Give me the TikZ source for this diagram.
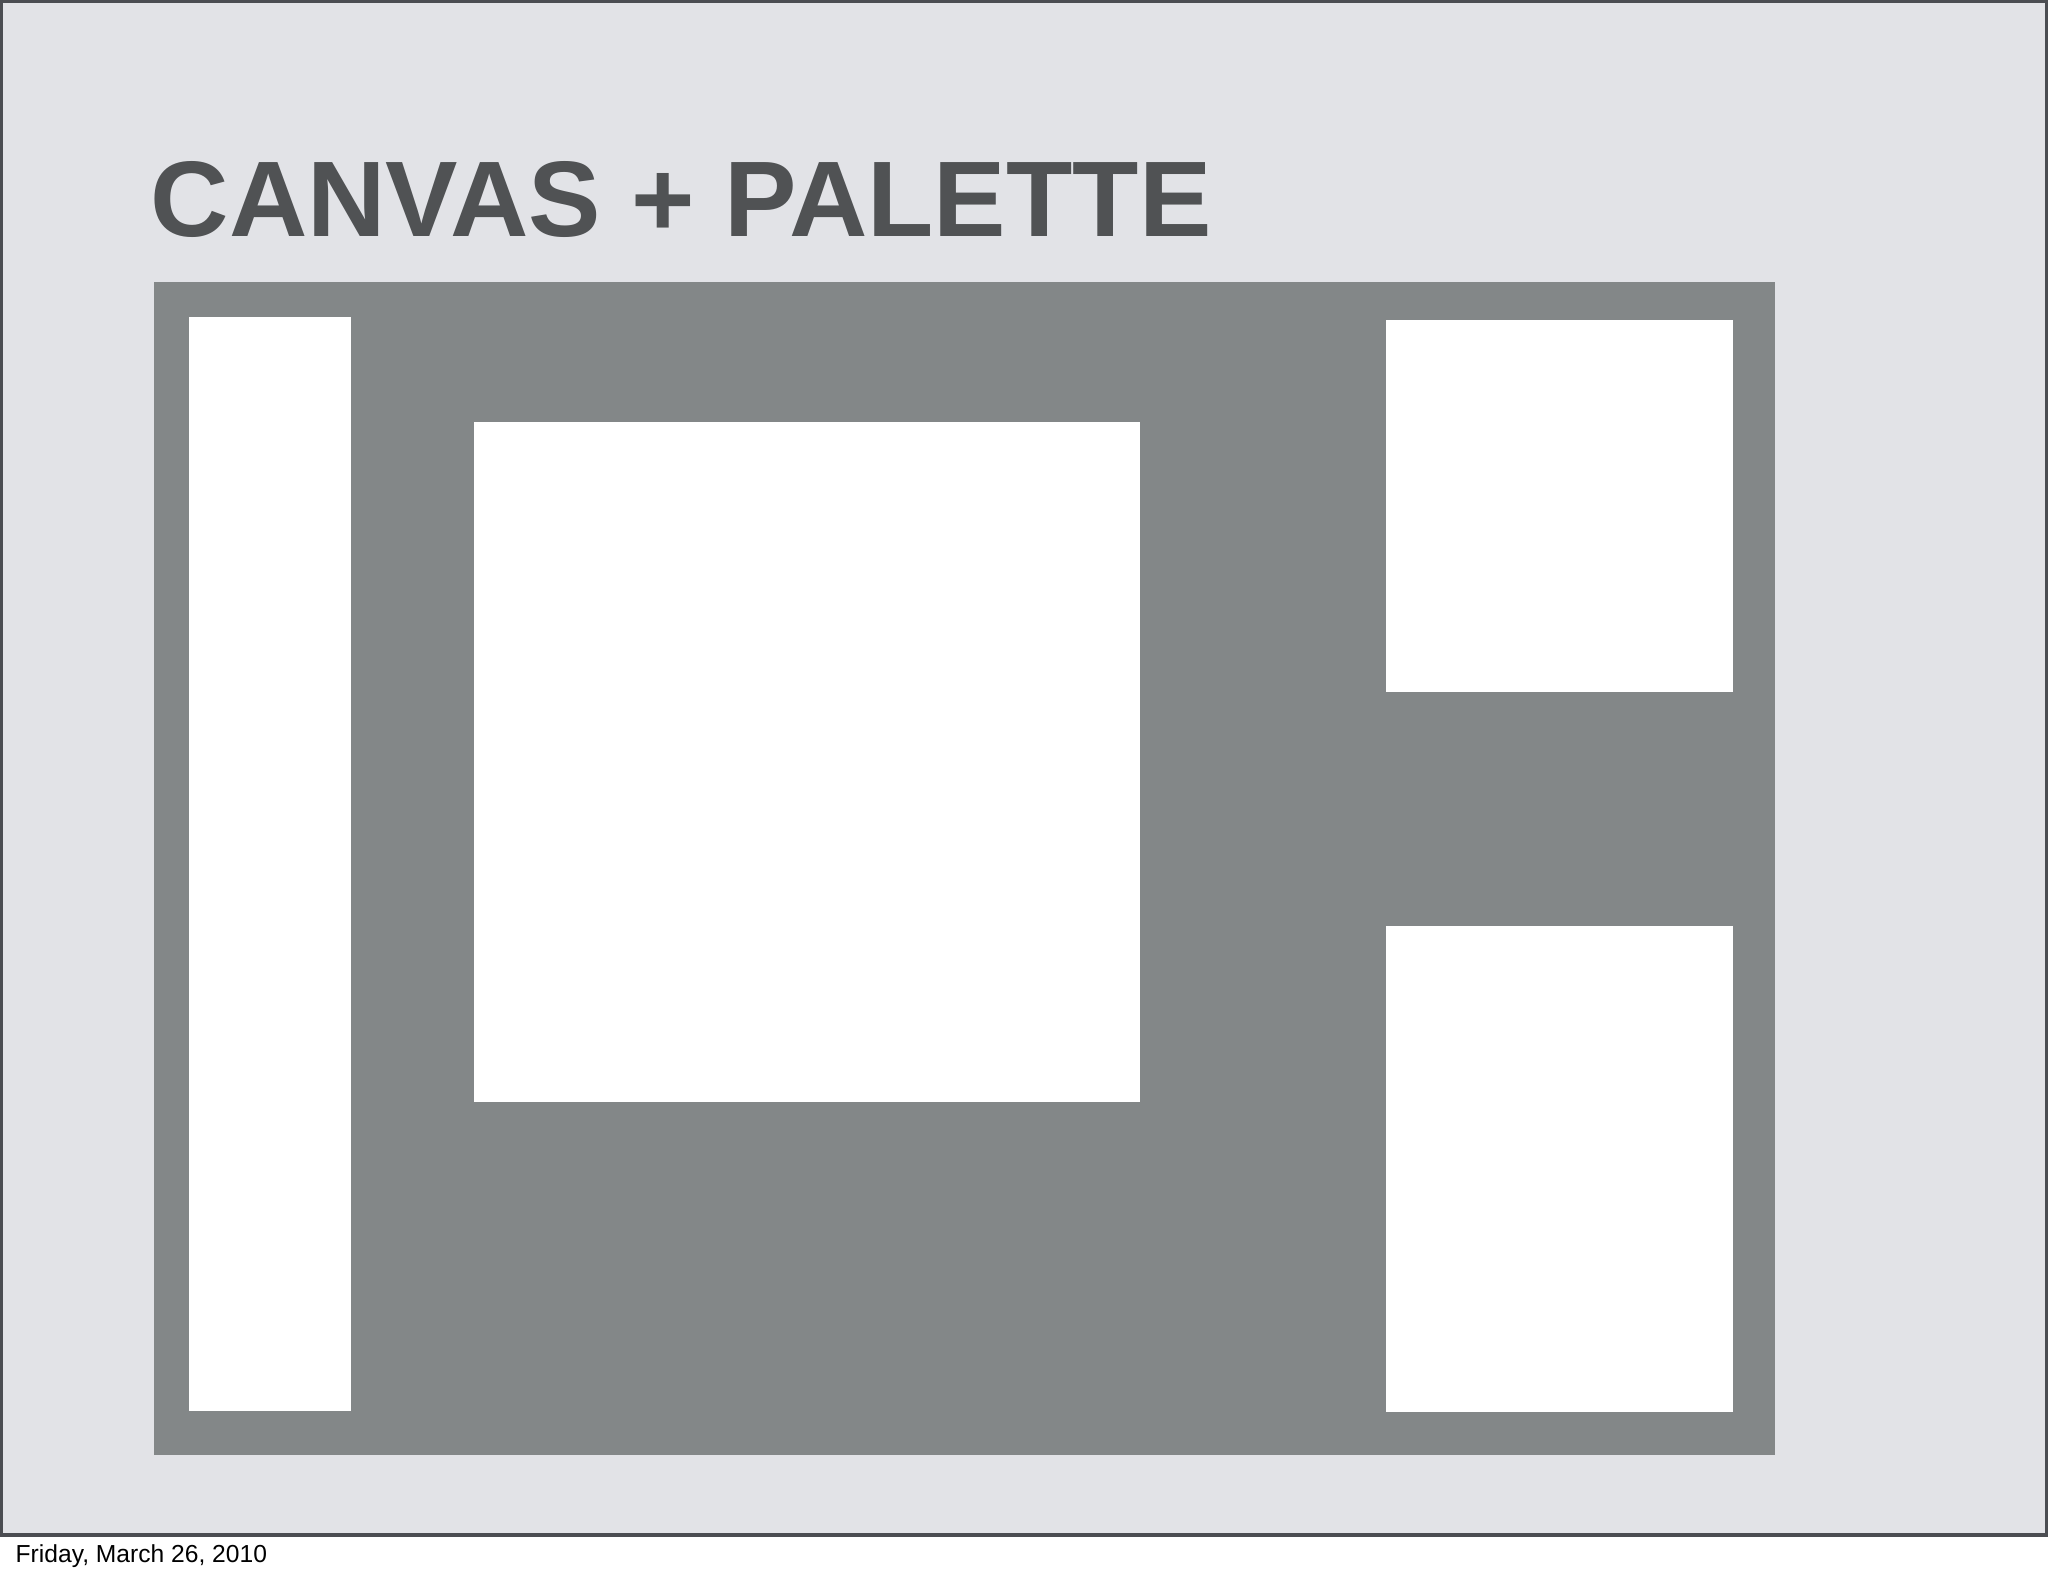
\documentclass[tikz,border=0pt]{standalone}
\usepackage{fontspec}
\setmainfont{Liberation Sans}
\usepackage{graphicx}
\definecolor{slidebg}{HTML}{E2E3E7}
\definecolor{slideline}{HTML}{4B4D52}
\definecolor{traygray}{HTML}{838788}
\definecolor{titlegray}{HTML}{505254}
\begin{document}
\begin{tikzpicture}[x=0.01cm,y=-0.01cm,
    box/.style={anchor=north west,inner sep=0pt,outer sep=0pt,fill=white},
    tray/.style={box,fill=traygray}]
  \useasboundingbox (0,0) rectangle (2048,1576);
  \fill[white] (0,0) rectangle (2048,1576);
  \draw[slideline,line width=1.2pt,fill=slidebg] (0.5,0.5) rectangle (2047,1535);
  \node[tray,minimum width=16.2cm,minimum height=11.72cm] (tray) at (154,282) {};
  \node[box,minimum width=1.62cm,minimum height=10.93cm] (tools) at (189,317) {};
  \node[box,minimum width=6.66cm,minimum height=6.8cm] (canvas) at (474,422) {};
  \node[box,minimum width=3.47cm,minimum height=3.72cm] (palette1) at (1386,320) {};
  \node[box,minimum width=3.47cm,minimum height=4.86cm] (palette2) at (1386,926) {};
  \node[anchor=base west,inner sep=0pt,text=titlegray] (title) at (150,237)
    {\resizebox{10.6cm}{0.75cm}{\bfseries CANVAS + PALETTE}};
  \node[anchor=base west,inner sep=0pt] (date) at (15,1562)
    {\fontsize{7.0}{8.4}\selectfont Friday, March 26, 2010};
\end{tikzpicture}
\end{document}
